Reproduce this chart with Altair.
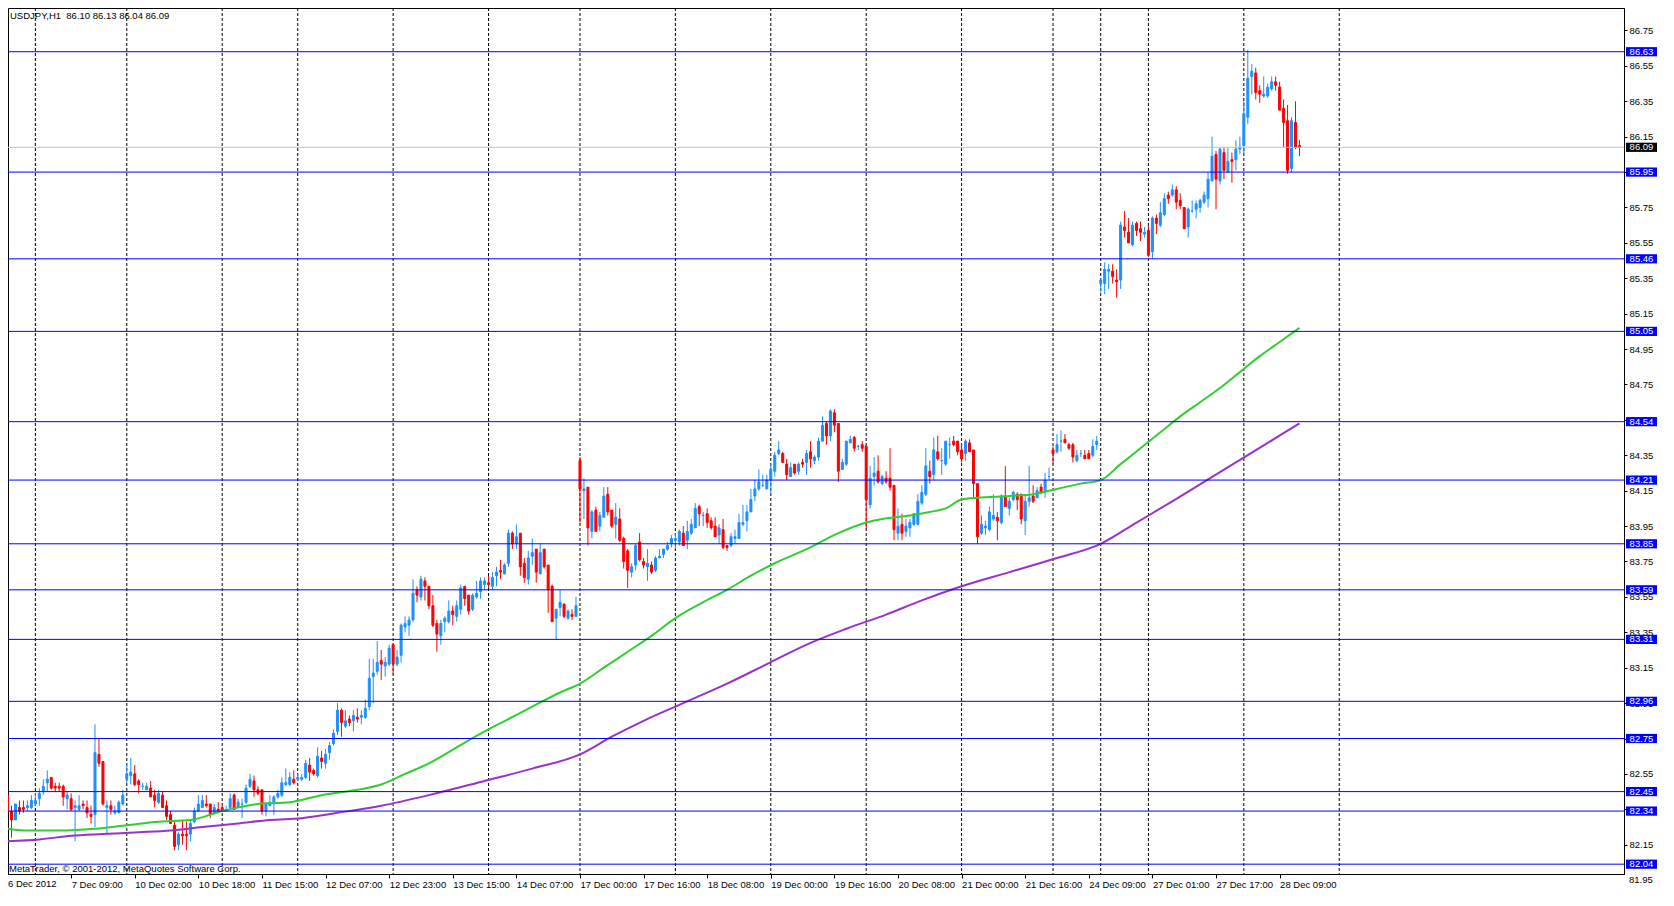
import json
import altair as alt
import pandas as pd

FONT = "Liberation Sans"
BULL = "#1E90FF"
BEAR = "#FF0000"
LEVEL_COLOR = "#0000FF"

OPEN = [
    82.43, 82.34, 82.29, 82.36, 82.36, 82.36, 82.36, 82.38, 82.41, 82.45,
    82.50, 82.53, 82.48, 82.48, 82.48, 82.41, 82.41, 82.36, 82.35, 82.38,
    82.36, 82.32, 82.32, 82.66, 82.62, 82.36, 82.37, 82.33, 82.33, 82.38,
    82.52, 82.54, 82.55, 82.51, 82.48, 82.46, 82.47, 82.43, 82.39, 82.43,
    82.37, 82.32, 82.26, 82.15, 82.21, 82.21, 82.21, 82.28, 82.34, 82.36,
    82.38, 82.38, 82.33, 82.35, 82.36, 82.34, 82.36, 82.43, 82.36, 82.38,
    82.39, 82.48, 82.51, 82.46, 82.46, 82.34, 82.37, 82.38, 82.42, 82.43,
    82.49, 82.49, 82.52, 82.52, 82.52, 82.53, 82.60, 82.57, 82.54, 82.64,
    82.61, 82.67, 82.72, 82.79, 82.91, 82.82, 82.86, 82.85, 82.87, 82.87,
    82.87, 82.93, 83.10, 83.13, 83.19, 83.16, 83.17, 83.28, 83.17, 83.22,
    83.38, 83.39, 83.42, 83.59, 83.55, 83.64, 83.61, 83.50, 83.40, 83.33,
    83.41, 83.41, 83.47, 83.44, 83.48, 83.61, 83.56, 83.48, 83.55, 83.58,
    83.62, 83.63, 83.61, 83.67, 83.70, 83.68, 83.74, 83.91, 83.85, 83.91,
    83.74, 83.65, 83.78, 83.82, 83.68, 83.82, 83.73, 83.61, 83.43, 83.49,
    83.51, 83.43, 83.45, 83.44, 84.32, 84.15, 84.17, 83.92, 84.04, 83.95,
    84.00, 84.13, 84.04, 83.96, 83.99, 83.88, 83.81, 83.69, 83.73, 83.86,
    83.75, 83.72, 83.73, 83.70, 83.77, 83.79, 83.82, 83.85, 83.87, 83.86,
    83.91, 83.87, 83.91, 83.94, 84.06, 84.01, 84.02, 83.98, 83.95, 83.90,
    83.93, 83.84, 83.84, 83.88, 83.88, 83.96, 83.98, 84.03, 84.12, 84.16,
    84.18, 84.16, 84.21, 84.26, 84.36, 84.36, 84.30, 84.23, 84.30, 84.26,
    84.31, 84.31, 84.37, 84.32, 84.34, 84.43, 84.53, 84.46, 84.59, 84.53,
    84.27, 84.30, 84.42, 84.45, 84.40, 84.41, 84.40, 84.07, 84.23, 84.26,
    84.19, 84.22, 84.22, 84.18, 83.91, 83.96, 83.92, 83.94, 83.96, 83.96,
    84.08, 84.13, 84.26, 84.24, 84.37, 84.32, 84.30, 84.41, 84.43, 84.43,
    84.38, 84.36, 84.42, 84.38, 84.19, 83.91, 83.94, 83.93, 83.99, 84.00,
    83.97, 84.12, 84.05, 84.10, 84.13, 84.13, 83.98, 84.09, 84.12, 84.11,
    84.17, 84.15, 84.23, 84.38, 84.37, 84.43, 84.44, 84.41, 84.41, 84.32,
    84.36, 84.35, 84.36, 84.35, 84.41, 85.32, 85.32, 85.39, 85.39, 85.34,
    85.34, 85.64, 85.61, 85.54, 85.66, 85.63, 85.60, 85.62, 85.50, 85.69,
    85.65, 85.71, 85.82, 85.82, 85.85, 85.79, 85.75, 85.64, 85.73, 85.74,
    85.75, 85.78, 85.80, 85.90, 86.05, 85.90, 86.06, 85.95, 86.02, 86.02,
    86.08, 86.10, 86.26, 86.49, 86.51, 86.41, 86.38, 86.38, 86.42, 86.46,
    86.43, 86.31, 86.24, 85.97, 86.23, 86.10,
]

HIGH = [
    82.44, 82.37, 82.38, 82.40, 82.40, 82.40, 82.43, 82.44, 82.47, 82.52,
    82.57, 82.53, 82.50, 82.50, 82.49, 82.45, 82.44, 82.40, 82.43, 82.40,
    82.40, 82.37, 82.83, 82.75, 82.62, 82.40, 82.40, 82.37, 82.40, 82.46,
    82.61, 82.64, 82.60, 82.52, 82.50, 82.50, 82.51, 82.46, 82.46, 82.45,
    82.40, 82.34, 82.29, 82.22, 82.29, 82.28, 82.29, 82.36, 82.43, 82.43,
    82.43, 82.38, 82.38, 82.39, 82.37, 82.37, 82.44, 82.44, 82.41, 82.41,
    82.49, 82.55, 82.54, 82.48, 82.46, 82.39, 82.43, 82.43, 82.46, 82.53,
    82.58, 82.56, 82.57, 82.55, 82.55, 82.63, 82.64, 82.58, 82.70, 82.68,
    82.69, 82.73, 82.80, 82.95, 82.92, 82.91, 82.88, 82.91, 82.92, 82.91,
    82.97, 83.20, 83.20, 83.30, 83.25, 83.21, 83.28, 83.28, 83.25, 83.40,
    83.44, 83.44, 83.65, 83.61, 83.67, 83.66, 83.61, 83.56, 83.42, 83.42,
    83.44, 83.53, 83.50, 83.53, 83.62, 83.61, 83.56, 83.57, 83.64, 83.66,
    83.66, 83.67, 83.69, 83.72, 83.76, 83.74, 83.93, 83.92, 83.96, 83.91,
    83.77, 83.81, 83.88, 83.82, 83.85, 83.82, 83.73, 83.62, 83.48, 83.59,
    83.51, 83.48, 83.48, 83.55, 84.34, 84.22, 84.17, 84.04, 84.06, 84.03,
    84.17, 84.17, 84.04, 84.08, 84.05, 83.89, 83.82, 83.74, 83.85, 83.91,
    83.77, 83.82, 83.75, 83.78, 83.82, 83.82, 83.86, 83.90, 83.91, 83.93,
    83.95, 83.98, 83.99, 84.08, 84.07, 84.03, 84.05, 84.00, 84.00, 83.96,
    83.99, 83.84, 83.91, 83.93, 84.02, 84.07, 84.07, 84.16, 84.21, 84.27,
    84.24, 84.24, 84.30, 84.37, 84.43, 84.37, 84.33, 84.31, 84.30, 84.31,
    84.33, 84.38, 84.43, 84.35, 84.45, 84.57, 84.54, 84.61, 84.61, 84.53,
    84.33, 84.43, 84.46, 84.46, 84.41, 84.43, 84.41, 84.29, 84.34, 84.35,
    84.24, 84.26, 84.39, 84.18, 84.05, 84.02, 83.99, 83.99, 84.02, 84.13,
    84.18, 84.39, 84.32, 84.45, 84.46, 84.39, 84.43, 84.45, 84.46, 84.43,
    84.42, 84.44, 84.44, 84.38, 84.19, 84.01, 83.98, 84.06, 84.13, 84.03,
    84.13, 84.29, 84.11, 84.15, 84.14, 84.13, 84.13, 84.29, 84.18, 84.17,
    84.19, 84.25, 84.28, 84.40, 84.47, 84.49, 84.47, 84.42, 84.42, 84.38,
    84.38, 84.38, 84.38, 84.44, 84.46, 85.35, 85.44, 85.43, 85.43, 85.40,
    85.67, 85.73, 85.69, 85.67, 85.67, 85.67, 85.64, 85.65, 85.70, 85.71,
    85.78, 85.83, 85.84, 85.88, 85.87, 85.83, 85.75, 85.75, 85.79, 85.79,
    85.80, 85.84, 85.95, 86.15, 86.07, 86.09, 86.09, 86.09, 86.06, 86.13,
    86.15, 86.35, 86.64, 86.56, 86.54, 86.44, 86.49, 86.45, 86.49, 86.49,
    86.46, 86.36, 86.33, 86.26, 86.35, 86.13,
]

LOW = [
    82.31, 82.19, 82.29, 82.32, 82.33, 82.34, 82.35, 82.37, 82.37, 82.43,
    82.45, 82.46, 82.45, 82.45, 82.37, 82.35, 82.34, 82.17, 82.34, 82.35,
    82.30, 82.27, 82.25, 82.59, 82.37, 82.21, 82.32, 82.32, 82.33, 82.37,
    82.50, 82.49, 82.48, 82.44, 82.46, 82.46, 82.42, 82.36, 82.38, 82.36,
    82.29, 82.27, 82.12, 82.12, 82.15, 82.12, 82.17, 82.27, 82.34, 82.36,
    82.36, 82.30, 82.32, 82.33, 82.34, 82.34, 82.35, 82.35, 82.36, 82.30,
    82.38, 82.47, 82.42, 82.43, 82.32, 82.31, 82.37, 82.32, 82.41, 82.42,
    82.48, 82.48, 82.49, 82.51, 82.51, 82.52, 82.51, 82.54, 82.53, 82.58,
    82.58, 82.63, 82.71, 82.77, 82.76, 82.81, 82.82, 82.79, 82.84, 82.83,
    82.86, 82.91, 82.95, 83.11, 83.08, 83.10, 83.16, 83.11, 83.16, 83.18,
    83.35, 83.33, 83.41, 83.52, 83.53, 83.53, 83.48, 83.38, 83.24, 83.28,
    83.35, 83.40, 83.39, 83.41, 83.45, 83.50, 83.45, 83.47, 83.54, 83.54,
    83.59, 83.60, 83.59, 83.61, 83.65, 83.68, 83.72, 83.82, 83.82, 83.67,
    83.63, 83.62, 83.73, 83.63, 83.68, 83.71, 83.46, 83.41, 83.31, 83.44,
    83.43, 83.42, 83.42, 83.44, 83.97, 83.99, 83.84, 83.88, 83.92, 83.92,
    84.00, 84.01, 83.94, 83.88, 83.86, 83.71, 83.60, 83.66, 83.70, 83.75,
    83.71, 83.64, 83.68, 83.69, 83.77, 83.77, 83.81, 83.83, 83.82, 83.84,
    83.84, 83.82, 83.90, 83.94, 83.95, 83.95, 83.94, 83.93, 83.89, 83.85,
    83.82, 83.81, 83.83, 83.85, 83.88, 83.95, 83.92, 84.03, 84.09, 84.15,
    84.17, 84.16, 84.13, 84.23, 84.35, 84.31, 84.21, 84.23, 84.24, 84.24,
    84.28, 84.24, 84.28, 84.30, 84.32, 84.43, 84.41, 84.43, 84.48, 84.20,
    84.27, 84.29, 84.42, 84.37, 84.38, 84.37, 83.93, 84.05, 84.18, 84.19,
    84.18, 84.19, 84.15, 83.87, 83.87, 83.87, 83.89, 83.89, 83.95, 83.96,
    84.07, 84.12, 84.19, 84.21, 84.32, 84.24, 84.29, 84.33, 84.40, 84.35,
    84.31, 84.32, 84.37, 84.11, 83.85, 83.90, 83.90, 83.92, 83.98, 83.87,
    83.96, 84.06, 84.01, 84.09, 84.04, 83.96, 83.90, 84.06, 84.08, 84.11,
    84.13, 84.11, 84.21, 84.30, 84.36, 84.37, 84.42, 84.38, 84.31, 84.31,
    84.34, 84.33, 84.33, 84.34, 84.38, 85.27, 85.26, 85.29, 85.32, 85.24,
    85.29, 85.58, 85.55, 85.53, 85.59, 85.56, 85.58, 85.47, 85.46, 85.60,
    85.64, 85.70, 85.77, 85.81, 85.74, 85.74, 85.63, 85.58, 85.72, 85.69,
    85.72, 85.77, 85.75, 85.90, 85.74, 85.88, 85.91, 85.95, 85.89, 85.96,
    86.05, 86.05, 86.22, 86.39, 86.36, 86.34, 86.37, 86.37, 86.41, 86.41,
    86.30, 86.09, 85.94, 85.95, 86.08, 86.04,
]

CLOSE = [
    82.34, 82.29, 82.38, 82.34, 82.35, 82.37, 82.40, 82.40, 82.44, 82.48,
    82.52, 82.47, 82.47, 82.47, 82.42, 82.43, 82.35, 82.37, 82.37, 82.37,
    82.33, 82.31, 82.67, 82.61, 82.38, 82.37, 82.35, 82.34, 82.39, 82.43,
    82.55, 82.56, 82.49, 82.49, 82.48, 82.48, 82.42, 82.40, 82.44, 82.36,
    82.31, 82.27, 82.14, 82.21, 82.20, 82.20, 82.27, 82.34, 82.38, 82.40,
    82.37, 82.32, 82.36, 82.34, 82.34, 82.35, 82.41, 82.35, 82.39, 82.38,
    82.47, 82.52, 82.46, 82.44, 82.34, 82.38, 82.39, 82.42, 82.44, 82.50,
    82.50, 82.53, 82.50, 82.53, 82.53, 82.61, 82.56, 82.55, 82.65, 82.62,
    82.66, 82.71, 82.78, 82.91, 82.84, 82.85, 82.84, 82.88, 82.86, 82.88,
    82.92, 83.09, 83.12, 83.18, 83.17, 83.18, 83.26, 83.17, 83.21, 83.39,
    83.40, 83.42, 83.57, 83.56, 83.65, 83.61, 83.50, 83.39, 83.34, 83.40,
    83.43, 83.47, 83.45, 83.50, 83.60, 83.54, 83.47, 83.56, 83.57, 83.64,
    83.64, 83.62, 83.66, 83.69, 83.69, 83.73, 83.91, 83.85, 83.89, 83.72,
    83.66, 83.77, 83.80, 83.69, 83.80, 83.72, 83.59, 83.41, 83.48, 83.52,
    83.44, 83.47, 83.44, 83.50, 84.16, 84.16, 83.94, 84.03, 83.92, 84.01,
    84.12, 84.03, 83.95, 84.00, 83.87, 83.75, 83.70, 83.72, 83.84, 83.76,
    83.73, 83.74, 83.69, 83.77, 83.78, 83.82, 83.84, 83.88, 83.88, 83.92,
    83.84, 83.92, 83.96, 84.05, 84.02, 84.01, 83.97, 83.94, 83.89, 83.94,
    83.83, 83.83, 83.89, 83.89, 83.97, 83.97, 84.03, 84.10, 84.16, 84.20,
    84.18, 84.21, 84.27, 84.35, 84.38, 84.31, 84.24, 84.28, 84.25, 84.30,
    84.30, 84.36, 84.33, 84.34, 84.43, 84.52, 84.46, 84.60, 84.52, 84.26,
    84.31, 84.43, 84.44, 84.39, 84.40, 84.39, 84.10, 84.22, 84.25, 84.20,
    84.23, 84.20, 84.17, 83.93, 83.95, 83.91, 83.95, 83.97, 84.02, 84.09,
    84.14, 84.29, 84.23, 84.38, 84.33, 84.32, 84.43, 84.41, 84.41, 84.37,
    84.33, 84.43, 84.37, 84.19, 83.89, 83.96, 83.95, 84.03, 84.01, 83.98,
    84.12, 84.06, 84.09, 84.14, 84.10, 83.99, 84.09, 84.11, 84.09, 84.15,
    84.14, 84.21, 84.23, 84.36, 84.41, 84.43, 84.42, 84.39, 84.34, 84.35,
    84.36, 84.33, 84.33, 84.40, 84.43, 85.34, 85.40, 85.40, 85.36, 85.33,
    85.65, 85.62, 85.55, 85.65, 85.62, 85.61, 85.61, 85.48, 85.69, 85.66,
    85.72, 85.80, 85.80, 85.85, 85.78, 85.76, 85.63, 85.74, 85.73, 85.77,
    85.79, 85.82, 85.91, 86.04, 85.91, 86.08, 85.96, 86.01, 86.01, 86.08,
    86.09, 86.28, 86.48, 86.52, 86.40, 86.39, 86.39, 86.43, 86.46, 86.44,
    86.30, 86.23, 85.96, 86.24, 86.09, 86.09,
]

GREEN_IDX = [0, 4, 13, 22, 30, 38, 46, 54, 63, 71, 79, 88, 94, 100, 106, 113,
             120, 126, 132, 139, 144, 150, 156, 162, 168, 175, 181, 187, 193,
             201, 209, 216, 220, 227, 232, 236, 240, 244, 252, 258, 264, 270,
             275, 280, 285, 290, 295, 300, 305, 310, 315, 320, 325]
GREEN_VAL = [82.24, 82.23, 82.23, 82.24, 82.26, 82.28, 82.29, 82.34, 82.38,
             82.39, 82.43, 82.46, 82.49, 82.55, 82.61, 82.70, 82.79, 82.86,
             82.93, 83.01, 83.06, 83.15, 83.24, 83.33, 83.43, 83.52, 83.59,
             83.67, 83.74, 83.82, 83.91, 83.97, 83.99, 84.01, 84.03, 84.05,
             84.10, 84.11, 84.12, 84.13, 84.16, 84.19, 84.21, 84.30, 84.39,
             84.48, 84.57, 84.65, 84.73, 84.82, 84.91, 84.99, 85.07]

PURPLE_IDX = [0, 8, 16, 24, 33, 41, 49, 58, 66, 74, 83, 94, 106, 120, 132, 144,
              152, 160, 170, 181, 191, 202, 211, 221, 230, 240, 252, 264, 275,
              284, 293, 301, 309, 317, 325]
PURPLE_VAL = [82.17, 82.18, 82.20, 82.21, 82.22, 82.23, 82.25, 82.27, 82.29,
              82.30, 82.33, 82.37, 82.43, 82.51, 82.58, 82.66, 82.76, 82.85,
              82.95, 83.06, 83.17, 83.29, 83.37, 83.45, 83.53, 83.61, 83.69,
              83.77, 83.85, 83.97, 84.09, 84.20, 84.31, 84.42, 84.53]

LEVELS = [86.63, 85.95, 85.46, 85.05, 84.54, 84.21, 83.85, 83.59, 83.31,
          82.96, 82.75, 82.45, 82.34, 82.04]
CURRENT = [86.09]

GRID_IDX = [7, 30, 54, 73, 97, 121, 144, 168, 192, 216, 240, 263, 275, 287,
            311, 335]

FIRST_LABEL = "6 Dec 2012"
XLABEL_IDX = [16, 32, 48, 64, 80, 96, 112, 128, 144, 160, 176, 192, 208,
              224, 240, 256, 272, 288, 304, 320]
XLABELS = ["6 Dec 2012", "7 Dec 09:00", "10 Dec 02:00", "10 Dec 18:00",
           "11 Dec 15:00", "12 Dec 07:00", "12 Dec 23:00", "13 Dec 15:00",
           "14 Dec 07:00", "17 Dec 00:00", "17 Dec 16:00", "18 Dec 08:00",
           "19 Dec 00:00", "19 Dec 16:00", "20 Dec 08:00", "21 Dec 00:00",
           "21 Dec 16:00", "24 Dec 09:00", "27 Dec 01:00", "27 Dec 17:00",
           "28 Dec 09:00"]

YTICKS = [82.15, 82.35, 82.55, 82.75, 82.95, 83.15, 83.35, 83.55, 83.75,
          83.95, 84.15, 84.35, 84.55, 84.75, 84.95, 85.15, 85.35, 85.55,
          85.75, 85.95, 86.15, 86.35, 86.55, 86.75]
BOTTOM_TICK = [81.95]

HEADER = "USDJPY,H1\u00a0 86.10 86.13 86.04 86.09"
COPYRIGHT = "MetaTrader, \u00a9 2001-2012, MetaQuotes Software Corp."

assert len(OPEN) == len(HIGH) == len(LOW) == len(CLOSE) == 326

# ---------------- layout ----------------
W, H = 1616, 866
XDOM = [1.375, 405.375]
YDOM = [81.9845, 86.877]
FS = 9.5

candles = pd.DataFrame({
    "idx": list(range(len(OPEN))),
    "open": OPEN, "high": HIGH, "low": LOW, "close": CLOSE,
})
candles["dir"] = ["up" if c >= o else "down" for o, c in zip(OPEN, CLOSE)]

green = pd.DataFrame({"idx": GREEN_IDX, "v": GREEN_VAL})
purple = pd.DataFrame({"idx": PURPLE_IDX, "v": PURPLE_VAL})
levels = pd.DataFrame({"level": LEVELS, "label": [f"{v:.2f}" for v in LEVELS]})
current = pd.DataFrame({"level": CURRENT, "label": [f"{v:.2f}" for v in CURRENT]})
bottom_tick = pd.DataFrame({"level": BOTTOM_TICK,
                            "label": [f"{v:.2f}" for v in BOTTOM_TICK]})
grid = pd.DataFrame({"g": GRID_IDX})

xs = alt.Scale(domain=XDOM, nice=False, zero=False)
ys = alt.Scale(domain=YDOM, nice=False, zero=False)

label_expr = json.dumps(XLABELS) + "[round(datum.value / 16)]"

x_axis = alt.Axis(
    values=XLABEL_IDX, labelExpr=label_expr, labelAlign="left",
    labelBaseline="top", labelPadding=1, labelFont=FONT, labelFontSize=FS,
    labelColor="black", tickColor="black", tickSize=4, domainColor="black",
    grid=False, title=None, labelOverlap=False, labelFlush=False,
)
y_axis = alt.Axis(
    orient="right", values=YTICKS, format=".2f", labelFont=FONT,
    labelFontSize=FS, labelColor="black", tickColor="black", tickSize=3,
    labelPadding=2, domainColor="black", grid=False, title=None,
    labelOverlap=False, labelFlush=False,
)


def X(field):
    return alt.X(f"{field}:Q", scale=xs, axis=x_axis)


def Y(field):
    return alt.Y(f"{field}:Q", scale=ys, axis=y_axis)


color_scale = alt.Scale(domain=["up", "down"], range=[BULL, BEAR])

grid_layer = alt.Chart(grid).mark_rule(
    color="black", strokeWidth=1, strokeDash=[3, 2]
).encode(x=X("g"), y=alt.value(0), y2=alt.value(H))

wicks = alt.Chart(candles).mark_rule(strokeWidth=1, clip=True).encode(
    x=X("idx"), y=Y("low"), y2=alt.Y2("high:Q"),
    color=alt.Color("dir:N", scale=color_scale, legend=None),
)

bodies = alt.Chart(candles).mark_bar(size=2, strokeWidth=1, clip=True).encode(
    x=X("idx"), y=Y("open"), y2=alt.Y2("close:Q"),
    color=alt.Color("dir:N", scale=color_scale, legend=None),
    stroke=alt.Stroke("dir:N", scale=color_scale, legend=None),
)

green_line = alt.Chart(green).mark_line(
    color="#32CD32", strokeWidth=2, interpolate="monotone", clip=True
).encode(x=X("idx"), y=Y("v"))

purple_line = alt.Chart(purple).mark_line(
    color="#9932CC", strokeWidth=2, interpolate="monotone", clip=True
).encode(x=X("idx"), y=Y("v"))

level_rules = alt.Chart(levels).mark_rule(
    color=LEVEL_COLOR, strokeWidth=1
).encode(y=Y("level"))

current_rule = alt.Chart(current).mark_rule(
    color="#C0C0C0", strokeWidth=1
).encode(y=Y("level"))

level_boxes = alt.Chart(levels).transform_calculate(
    top="datum.level + 0.026", bot="datum.level - 0.026"
).mark_rect(color=LEVEL_COLOR).encode(
    x=alt.value(W + 2), x2=alt.value(W + 33), y=Y("top"), y2=alt.Y2("bot:Q")
)

level_text = alt.Chart(levels).mark_text(
    color="white", font=FONT, fontSize=FS, align="center", baseline="middle"
).encode(x=alt.value(W + 17.5), y=Y("level"), text="label:N")

current_box = alt.Chart(current).transform_calculate(
    top="datum.level + 0.026", bot="datum.level - 0.026"
).mark_rect(color="black").encode(
    x=alt.value(W + 2), x2=alt.value(W + 33), y=Y("top"), y2=alt.Y2("bot:Q")
)

current_text = alt.Chart(current).mark_text(
    color="white", font=FONT, fontSize=FS, align="center", baseline="middle"
).encode(x=alt.value(W + 17.5), y=Y("level"), text="label:N")

bottom_label = alt.Chart(bottom_tick).mark_text(
    color="black", font=FONT, fontSize=FS, align="left", baseline="middle"
).encode(x=alt.value(W + 5), y=Y("level"), text="label:N")

first_xlabel = alt.Chart(pd.DataFrame({"t": [FIRST_LABEL]})).mark_text(
    color="black", font=FONT, fontSize=FS, align="left", baseline="top"
).encode(x=alt.value(0), y=alt.value(H + 5), text="t:N")

header = alt.Chart(pd.DataFrame({"t": [HEADER]})).mark_text(
    color="black", font=FONT, fontSize=FS, align="left", baseline="middle"
).encode(x=alt.value(2), y=alt.value(8), text="t:N")

copyright_text = alt.Chart(pd.DataFrame({"t": [COPYRIGHT]})).mark_text(
    color="black", font=FONT, fontSize=FS, align="left", baseline="middle"
).encode(x=alt.value(1), y=alt.value(H - 5), text="t:N")

chart = alt.layer(
    grid_layer, wicks, bodies, green_line, purple_line, level_rules,
    current_rule, level_boxes, level_text, current_box, current_text,
    bottom_label, first_xlabel, header, copyright_text,
).properties(
    width=W, height=H, background="white",
    autosize=alt.AutoSizeParams(type="none"),
    padding={"left": 0, "top": 0, "right": 42, "bottom": 18},
).configure_view(
    stroke="black", strokeWidth=1
)

chart.save("out.html", embed_options={"renderer": "svg", "actions": False})
